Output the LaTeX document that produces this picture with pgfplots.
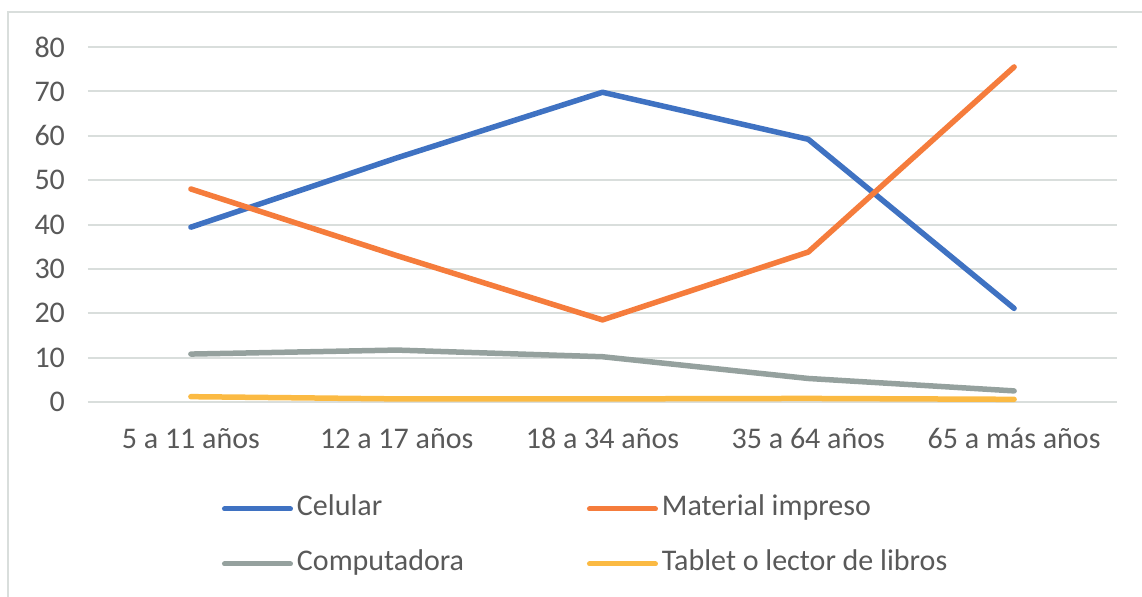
\documentclass[border=0pt]{standalone}
\usepackage{pgfplots}
\pgfplotsset{compat=1.18}
\usepackage{fontspec}
\setmainfont{Carlito}
\definecolor{txt}{HTML}{595959}
\definecolor{gridc}{HTML}{D9DEDC}
\definecolor{cblue}{HTML}{3F72C2}
\definecolor{corange}{HTML}{F57C3C}
\definecolor{cgray}{HTML}{95A19E}
\definecolor{cyellow}{HTML}{FBBA43}
\begin{document}
\begin{tikzpicture}
\begin{axis}[
  anchor=south west,
  scale only axis, width=514.5pt, height=177.5pt,
  xmin=-0.5, xmax=4.5, ymin=0, ymax=80,
  axis line style={draw=none},
  xtick={0,...,4},
  xticklabels={5 a 11 años, 12 a 17 años, 18 a 34 años, 35 a 64 años, 65 a más años},
  ytick={0,10,...,80},
  major tick length=0pt,
  ymajorgrids, grid style={gridc, line width=1pt},
  tick label style={font=\fontsize{15}{18}\selectfont, text=txt},
  /pgf/number format/assume math mode=true,
  yticklabel style={xshift=-8pt},
  xticklabel style={yshift=-9.5pt},
  clip=false,
  legend columns=2,
  legend style={draw=none, fill=none, inner sep=0pt, outer sep=0pt,
    at={(0.1302,-0.262)}, anchor=north west,
    font=\fontsize{15}{18}\selectfont, text=txt,
    nodes={inner sep=0pt, text height=10.5pt, text depth=3.5pt},
    column sep=2pt, row sep=13.5pt},
  legend image code/.code={\draw[#1, line width=2.5pt, line cap=round] (0pt,0pt) -- (33pt,0pt);},
  every axis plot/.append style={line width=2.75pt, line join=round, line cap=round, mark=none},
]
\addplot[cblue] coordinates {(0,39.4) (1,55) (2,69.8) (3,59.2) (4,21.1)};
\addlegendentry{\makebox[143pt][l]{Celular}}
\addplot[corange] coordinates {(0,48) (1,33) (2,18.5) (3,33.8) (4,75.5)};
\addlegendentry{\makebox[125pt][l]{Material impreso}}
\addplot[cgray] coordinates {(0,10.8) (1,11.7) (2,10.2) (3,5.3) (4,2.5)};
\addlegendentry{\makebox[143pt][l]{Computadora}}
\addplot[cyellow] coordinates {(0,1.2) (1,0.7) (2,0.7) (3,0.8) (4,0.6)};
\addlegendentry{\makebox[125pt][l]{Tablet o lector de libros}}
\end{axis}
\begin{scope}
\clip (-44pt,-97.5pt) rectangle (527pt,201pt);
\draw[gridc, line width=1pt] (-40pt,-110pt) -- (-40pt,195pt) -- (540pt,195pt);
\end{scope}
\pgfresetboundingbox
\path[use as bounding box] (-44pt,-97.5pt) rectangle (527pt,201pt);
\end{tikzpicture}
\end{document}
